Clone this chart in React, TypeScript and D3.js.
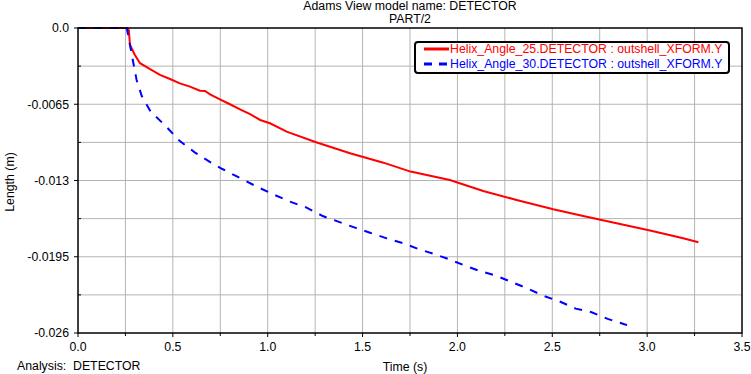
import { useMemo } from 'react';
import * as d3 from 'd3';

// Adams plot: displacement of the outer shell vs time, two helix angles

const WIDTH = 751;
const HEIGHT = 374;
const PLOT = { left: 78, right: 742, top: 28, bottom: 333 };
const FONT = '"Liberation Sans", Arial, sans-serif';

const xTicks = [0, 0.5, 1.0, 1.5, 2.0, 2.5, 3.0, 3.5];
const xGrid = [0.25, 0.5, 0.75, 1.0, 1.25, 1.5, 1.75, 2.0, 2.25, 2.5, 2.75, 3.0, 3.25];
const yTicks = [0, -0.0065, -0.013, -0.0195, -0.026];
const yTickLabels = ['0.0', '-0.0065', '-0.013', '-0.0195', '-0.026'];
const yGrid = [-0.00325, -0.0065, -0.00975, -0.013, -0.01625, -0.0195, -0.02275];

const seriesNames = [
  'Helix_Angle_25.DETECTOR : outshell_XFORM.Y',
  'Helix_Angle_30.DETECTOR : outshell_XFORM.Y',
];

const time25 = [
  0, 0.26, 0.268, 0.274, 0.3, 0.327, 0.38, 0.432, 0.485, 0.537, 0.59, 0.643, 0.669, 0.696,
  0.748, 0.801, 0.854, 0.907, 0.96, 1.012, 1.1, 1.251, 1.434, 1.61, 1.753, 1.96, 2.136,
  2.312, 2.505, 2.663, 2.839, 3.015, 3.19, 3.27,
];
const length25 = [
  0, 0, -0.0002, -0.00145, -0.0023, -0.003, -0.0035, -0.004, -0.00435, -0.00472, -0.005,
  -0.00534, -0.00537, -0.00565, -0.00608, -0.0065, -0.00693, -0.00735, -0.00784, -0.00812,
  -0.00884, -0.00972, -0.01068, -0.01148, -0.01224, -0.01296, -0.01389, -0.01466, -0.01545,
  -0.01603, -0.01664, -0.01727, -0.01793, -0.01827,
];

const time30 = [
  0, 0.257, 0.274, 0.292, 0.309, 0.336, 0.383, 0.462, 0.534, 0.617, 0.701, 0.761, 0.942,
  1.038, 1.117, 1.205, 1.29, 1.372, 1.46, 1.539, 1.627, 1.715, 1.794, 1.882, 1.952, 2.031,
  2.115, 2.2, 2.286, 2.368, 2.452, 2.537, 2.623, 2.707, 2.792, 2.88, 2.894,
];
const length30 = [
  0, 0, -0.00145, -0.003, -0.00443, -0.0058, -0.00713, -0.00835, -0.0096, -0.01062,
  -0.01148, -0.01202, -0.01352, -0.01424, -0.0148, -0.01531, -0.01603, -0.01651, -0.01702,
  -0.01745, -0.01793, -0.01835, -0.01884, -0.01929, -0.01969, -0.0202, -0.0207, -0.0211,
  -0.02165, -0.0222, -0.02282, -0.0233, -0.02392, -0.02423, -0.0248, -0.02525, -0.02533,
];

export default function App() {
  const x = useMemo(() => d3.scaleLinear().domain([0, 3.5]).range([PLOT.left, PLOT.right]), []);
  const y = useMemo(() => d3.scaleLinear().domain([-0.026, 0]).range([PLOT.bottom, PLOT.top]), []);

  const line = d3
    .line<[number, number]>()
    .x((d) => x(d[0]))
    .y((d) => y(d[1]));

  const path25 = line(time25.map((t, i) => [t, length25[i]]));
  const path30 = line(time30.map((t, i) => [t, length30[i]]));

  const midX = (PLOT.left + PLOT.right) / 2;

  return (
    <svg
      width={WIDTH}
      height={HEIGHT}
      style={{ position: 'absolute', left: 0, top: 0, background: '#fff' }}
      fontFamily={FONT}
      fontSize={12.3}
    >
      <rect width={WIDTH} height={HEIGHT} fill="#fff" />

      <text x={midX} y={10} textAnchor="middle">Adams View model name: DETECTOR</text>
      <text x={midX} y={23} textAnchor="middle">PART/2</text>

      {/* grid */}
      {xGrid.map((v) => (
        <line key={`gx${v}`} x1={x(v)} x2={x(v)} y1={PLOT.top} y2={PLOT.bottom} stroke="#b4b4b4" />
      ))}
      {yGrid.map((v) => (
        <line key={`gy${v}`} x1={PLOT.left} x2={PLOT.right} y1={y(v)} y2={y(v)} stroke="#b4b4b4" />
      ))}

      {/* ticks */}
      {xTicks.map((v) => (
        <g key={`tx${v}`}>
          <line x1={x(v)} x2={x(v)} y1={PLOT.bottom} y2={PLOT.bottom + 4} stroke="#000" />
          <text x={x(v)} y={PLOT.bottom + 18} textAnchor="middle">{v.toFixed(1)}</text>
        </g>
      ))}
      {xGrid.filter((v) => !xTicks.includes(v)).map((v) => (
        <line key={`mx${v}`} x1={x(v)} x2={x(v)} y1={PLOT.bottom} y2={PLOT.bottom + 3} stroke="#000" />
      ))}
      {yTicks.map((v, i) => (
        <g key={`ty${v}`}>
          <line x1={PLOT.left - 4} x2={PLOT.left} y1={y(v)} y2={y(v)} stroke="#000" />
          <text x={PLOT.left - 9} y={y(v)} dy="0.35em" textAnchor="end">{yTickLabels[i]}</text>
        </g>
      ))}
      {yGrid.filter((v) => !yTicks.includes(v)).map((v) => (
        <line key={`my${v}`} x1={PLOT.left} x2={PLOT.left + 3} y1={y(v)} y2={y(v)} stroke="#000" />
      ))}

      {/* curves */}
      <path d={path25 ?? ''} fill="none" stroke="#ff0000" strokeWidth={2} />
      <path d={path30 ?? ''} fill="none" stroke="#0000ff" strokeWidth={2} strokeDasharray="8 8" />

      {/* frame */}
      <rect
        x={PLOT.left}
        y={PLOT.top}
        width={PLOT.right - PLOT.left}
        height={PLOT.bottom - PLOT.top}
        fill="none"
        stroke="#000"
        strokeWidth={1.5}
      />

      {/* legend */}
      <rect x={415} y={42} width={314} height={31} rx={3} fill="#fff" stroke="#000" strokeWidth={2} />
      <line x1={424} x2={449} y1={49} y2={49} stroke="#ff0000" strokeWidth={3} />
      <text x={450} y={53} fill="#ff0000">{seriesNames[0]}</text>
      <line x1={424} x2={449} y1={64} y2={64} stroke="#0000ff" strokeWidth={3} strokeDasharray="8 7" />
      <text x={450} y={68} fill="#0000ff">{seriesNames[1]}</text>

      {/* axis titles */}
      <text x={405} y={371} textAnchor="middle">Time (s)</text>
      <text transform="translate(14,182) rotate(-90)" textAnchor="middle">Length (m)</text>
      <text x={17} y={370} style={{ whiteSpace: 'pre' }}>Analysis:  DETECTOR</text>
    </svg>
  );
}
